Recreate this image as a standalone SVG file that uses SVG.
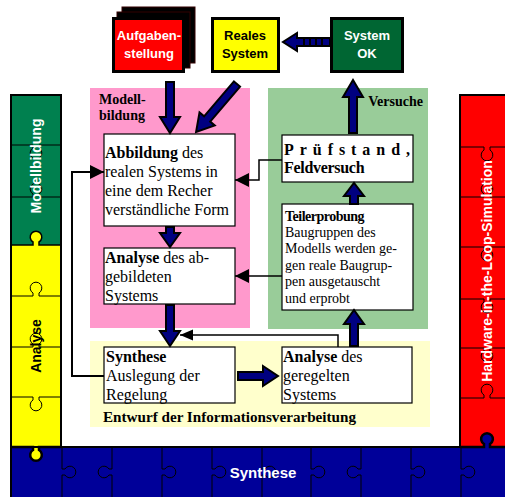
<svg xmlns="http://www.w3.org/2000/svg" width="505" height="497" viewBox="0 0 505 497">
<style>
.serif{font-family:"Liberation Serif","Times New Roman",serif;fill:#000}
.b{font-weight:bold}
.sans{font-family:"Liberation Sans",Arial,sans-serif;font-weight:bold}
.box{fill:#fff;stroke:#000;stroke-width:1.2}
.thick{fill:#000080;stroke:#000;stroke-width:2;stroke-linejoin:miter}
.pz{fill:none;stroke:#000;stroke-width:1}
.thin{fill:none;stroke:#000;stroke-width:2}
.thin2{fill:none;stroke:#000;stroke-width:1.5}
</style>
<defs>
<marker id="ah" markerUnits="userSpaceOnUse" markerWidth="15" markerHeight="16" refX="14" refY="8" orient="auto">
<path d="M0,1 L14,8 L0,15 z" fill="#000"/>
</marker>
<marker id="ahs" markerUnits="userSpaceOnUse" markerWidth="14" markerHeight="12" refX="13" refY="6" orient="auto">
<path d="M0,0.5 L13,6 L0,11.5 z" fill="#000"/>
</marker>
</defs>
<rect width="505" height="497" fill="#fff"/>

<!-- bottom bar -->
<g id="synthese-bar">
<rect x="11" y="447" width="500" height="55" fill="#000099" stroke="#000" stroke-width="2"/>
<path class="pz" d="M62 447 V469 H65 A5.83 5.83 0 1 1 65 475 H62 V497"/>
<path class="pz" d="M112 447 V469 H109 A5.83 5.83 0 1 0 109 475 H112 V497"/>
<path class="pz" d="M162 447 V469 H165 A5.83 5.83 0 1 1 165 475 H162 V497"/>
<path class="pz" d="M212 447 V469 H215 A5.83 5.83 0 1 1 215 475 H212 V497"/>
<path class="pz" d="M262 447 V469 H265 A5.83 5.83 0 1 1 265 475 H262 V497"/>
<path class="pz" d="M311 447 V469 H314 A5.83 5.83 0 1 1 314 475 H311 V497"/>
<path class="pz" d="M361 447 V469 H358 A5.83 5.83 0 1 0 358 475 H361 V497"/>
<path class="pz" d="M411 447 V469 H414 A5.83 5.83 0 1 1 414 475 H411 V497"/>
<path class="pz" d="M461 447 V469 H464 A5.83 5.83 0 1 1 464 475 H461 V497"/>
<text class="sans" x="263" y="478" font-size="15" fill="#fff" text-anchor="middle">Synthese</text>
</g>

<!-- left column -->
<g id="col-left">
<rect x="11" y="95" width="50" height="150" fill="#00804f"/>
<rect x="11" y="245" width="50" height="202" fill="#ffff00"/>
<path d="M33 246 V242 A5.83 5.83 0 1 1 39 242 V246 Z" fill="#ffff00"/>
<path d="M33 446 V450 A5.83 5.83 0 1 0 39 450 V446 Z" fill="#ffff00"/>
<path class="pz" d="M11 145 H33 V148 A5.83 5.83 0 1 0 39 148 V145 H61"/>
<path class="pz" d="M11 197 H33 V194 A5.83 5.83 0 1 1 39 194 V197 H61"/>
<path fill="none" stroke="#000" stroke-width="1.5" d="M11 245 H33 V242 A5.83 5.83 0 1 1 39 242 V245 H61"/>
<path class="pz" d="M11 296 H33 V293 A5.83 5.83 0 1 1 39 293 V296 H61"/>
<path class="pz" d="M11 347 H33 V344 A5.83 5.83 0 1 1 39 344 V347 H61"/>
<path class="pz" d="M11 397 H33 V400 A5.83 5.83 0 1 0 39 400 V397 H61"/>
<rect x="11" y="95" width="50" height="352" fill="none" stroke="#000" stroke-width="2"/>
<path fill="none" stroke="#000" stroke-width="2.5" d="M11 447 H33 V450 A5.83 5.83 0 1 0 39 450 V447 H61"/>
<text class="sans" font-size="14" fill="#fff" text-anchor="middle" transform="translate(41,166) rotate(-90)">Modellbildung</text>
<text class="sans" font-size="14" fill="#000" text-anchor="middle" transform="translate(41,346) rotate(-90)">Analyse</text>
</g>

<!-- right column -->
<g id="col-right">
<rect x="460" y="95" width="50" height="352" fill="#ff0000" stroke="#000" stroke-width="2"/>
<path class="pz" d="M460 147 H484 V150 A5.83 5.83 0 1 0 490 150 V147 H510"/>
<path class="pz" d="M460 197 H484 V194 A5.83 5.83 0 1 1 490 194 V197 H510"/>
<path class="pz" d="M460 247 H484 V250 A5.83 5.83 0 1 0 490 250 V247 H510"/>
<path class="pz" d="M460 299 H484 V302 A5.83 5.83 0 1 0 490 302 V299 H510"/>
<path class="pz" d="M460 348 H484 V351 A5.83 5.83 0 1 0 490 351 V348 H510"/>
<path class="pz" d="M460 398 H484 V395 A5.83 5.83 0 1 1 490 395 V398 H510"/>
<path d="M484 448 V444 A5.83 5.83 0 1 1 490 444 V448 Z" fill="#000099"/>
<path fill="none" stroke="#000" stroke-width="2.5" d="M460 447 H484 V444 A5.83 5.83 0 1 1 490 444 V447 H510"/>
<text class="sans" font-size="14" fill="#fff" text-anchor="middle" transform="translate(492,271) rotate(-90)">Hardware-in-the-Loop-Simulation</text>
</g>

<!-- background areas -->
<g id="area-modellbildung">
<rect x="90" y="88" width="160" height="240" fill="#ff99cc"/>
<text class="serif b" x="99" y="104" font-size="14">Modell-</text>
<text class="serif b" x="99" y="120" font-size="14">bildung</text>
</g>
<g id="area-versuche">
<rect x="268" y="88" width="160" height="241" fill="#99cc99"/>
<text class="serif b" x="423" y="106" font-size="14">
<tspan text-anchor="end">Versuche</tspan></text>
</g>
<g id="area-entwurf">
<rect x="90" y="341" width="340" height="86" fill="#ffffcc"/>
<text class="serif b" x="103" y="422" font-size="14" textLength="253" lengthAdjust="spacingAndGlyphs">Entwurf der Informationsverarbeitung</text>
</g>

<!-- top nodes -->
<g id="aufgabenstellung">
<rect x="122" y="7" width="73" height="56" fill="#000" stroke="#300" stroke-width="1"/>
<rect x="117" y="12" width="73" height="56" fill="#000" stroke="#300" stroke-width="1"/>
<rect x="113.5" y="18.5" width="70" height="53" fill="#ff0000" stroke="#000" stroke-width="3"/>
<text class="sans" x="149" y="40" font-size="13" fill="#fff" text-anchor="middle">Aufgaben-</text>
<text class="sans" x="149" y="58" font-size="13" fill="#fff" text-anchor="middle">stellung</text>
</g>
<g id="reales-system">
<rect x="212.5" y="18.5" width="66" height="53" fill="#ffff00" stroke="#000" stroke-width="3"/>
<text class="sans" x="245" y="40" font-size="13" fill="#000" text-anchor="middle">Reales</text>
<text class="sans" x="245" y="58" font-size="13" fill="#000" text-anchor="middle">System</text>
</g>
<g id="system-ok">
<rect x="331.5" y="18.5" width="71" height="53" fill="#006633" stroke="#000" stroke-width="3"/>
<text class="sans" x="367" y="40" font-size="13" fill="#fff" text-anchor="middle">System</text>
<text class="sans" x="367" y="58" font-size="13" fill="#fff" text-anchor="middle">OK</text>
</g>

<!-- inner boxes -->
<g id="abbildung">
<rect class="box" x="104" y="134" width="131" height="92"/>
<text class="serif" font-size="16" x="105" y="158"><tspan class="b">Abbildung</tspan> des</text>
<text class="serif" font-size="16" x="105" y="177">realen Systems in</text>
<text class="serif" font-size="16" x="105" y="196">eine dem Recher</text>
<text class="serif" font-size="16" x="105" y="215">verständliche Form</text>
</g>
<g id="analyse">
<rect class="box" x="104" y="248" width="131" height="56"/>
<text class="serif" font-size="16" x="105" y="263"><tspan class="b">Analyse</tspan> des ab-</text>
<text class="serif" font-size="16" x="105" y="282">gebildeten</text>
<text class="serif" font-size="16" x="105" y="301">Systems</text>
</g>
<g id="synthese">
<rect class="box" x="104" y="347" width="131" height="56"/>
<text class="serif" font-size="16" x="106" y="362"><tspan class="b">Synthese</tspan></text>
<text class="serif" font-size="16" x="106" y="381">Auslegung der</text>
<text class="serif" font-size="16" x="106" y="400">Regelung</text>
</g>
<g id="analyse-geregelt">
<rect class="box" x="282" y="347" width="130" height="56"/>
<text class="serif" font-size="16" x="283" y="362"><tspan class="b">Analyse</tspan> des</text>
<text class="serif" font-size="16" x="283" y="381">geregelten</text>
<text class="serif" font-size="16" x="283" y="400">Systems</text>
</g>
<g id="pruefstand">
<rect class="box" x="282" y="135" width="131" height="47"/>
<text class="serif b" font-size="16" x="284" y="155" textLength="126" lengthAdjust="spacing">Prüfstand,</text>
<text class="serif b" font-size="16" x="284" y="173" letter-spacing="-0.3">Feldversuch</text>
</g>
<g id="teilerprobung">
<rect class="box" x="282" y="204" width="131" height="106"/>
<text class="serif b" font-size="14" x="285" y="221" letter-spacing="-0.5">Teilerprobung</text>
<text class="serif" font-size="14" x="285" y="237">Baugruppen des</text>
<text class="serif" font-size="14" x="285" y="253">Modells werden ge-</text>
<text class="serif" font-size="14" x="285" y="270">gen reale Baugrup-</text>
<text class="serif" font-size="14" x="285" y="286">pen ausgetauscht</text>
<text class="serif" font-size="14" x="285" y="303">und erprobt</text>
</g>

<!-- connectors -->
<g id="connectors">
<polyline class="thin" points="104,376 72,376 72,172 104,172" marker-end="url(#ah)"/>
<polyline class="thin2" points="282,160 259,160 259,180 235,180" marker-end="url(#ah)"/>
<line class="thin2" x1="282" y1="276" x2="235" y2="276" marker-end="url(#ah)"/>
<polyline class="thin2" points="338,347 338,335 180,335" marker-end="url(#ahs)"/>

<path class="thick" d="M166 82 H174 V117 H180 L170 133 L160 117 H166 Z"/>
<path class="thick" transform="translate(237,84) rotate(40.5)" d="M-4 0 H4 V46 H10 L0 63 L-10 46 H-4 Z"/>
<path class="thick" d="M166 227 H174 V233 H180 L170 247 L160 233 H166 Z"/>
<path class="thick" d="M166 305 H174 V331 H180 L170 346 L160 331 H166 Z"/>
<path class="thick" d="M238 372 V380 H263 V386 L278 376 L263 366 V372 Z"/>
<path class="thick" d="M350 346 H358 V324 H364 L354 310 L344 324 H350 Z"/>
<path class="thick" d="M350 204 H358 V196 H364 L354 183 L344 196 H350 Z"/>
<path class="thick" d="M349 133 H357 V97 H363 L353 80 L343 97 H349 Z"/>
<path class="thick" d="M330 38 V46 H297 V51 L283 42 L297 33 V38 Z"/>
<path stroke="#000" stroke-width="2" d="M304 39 V45 M310 39 V45 M316 39 V45 M322 39 V45"/>
</g>
</svg>
